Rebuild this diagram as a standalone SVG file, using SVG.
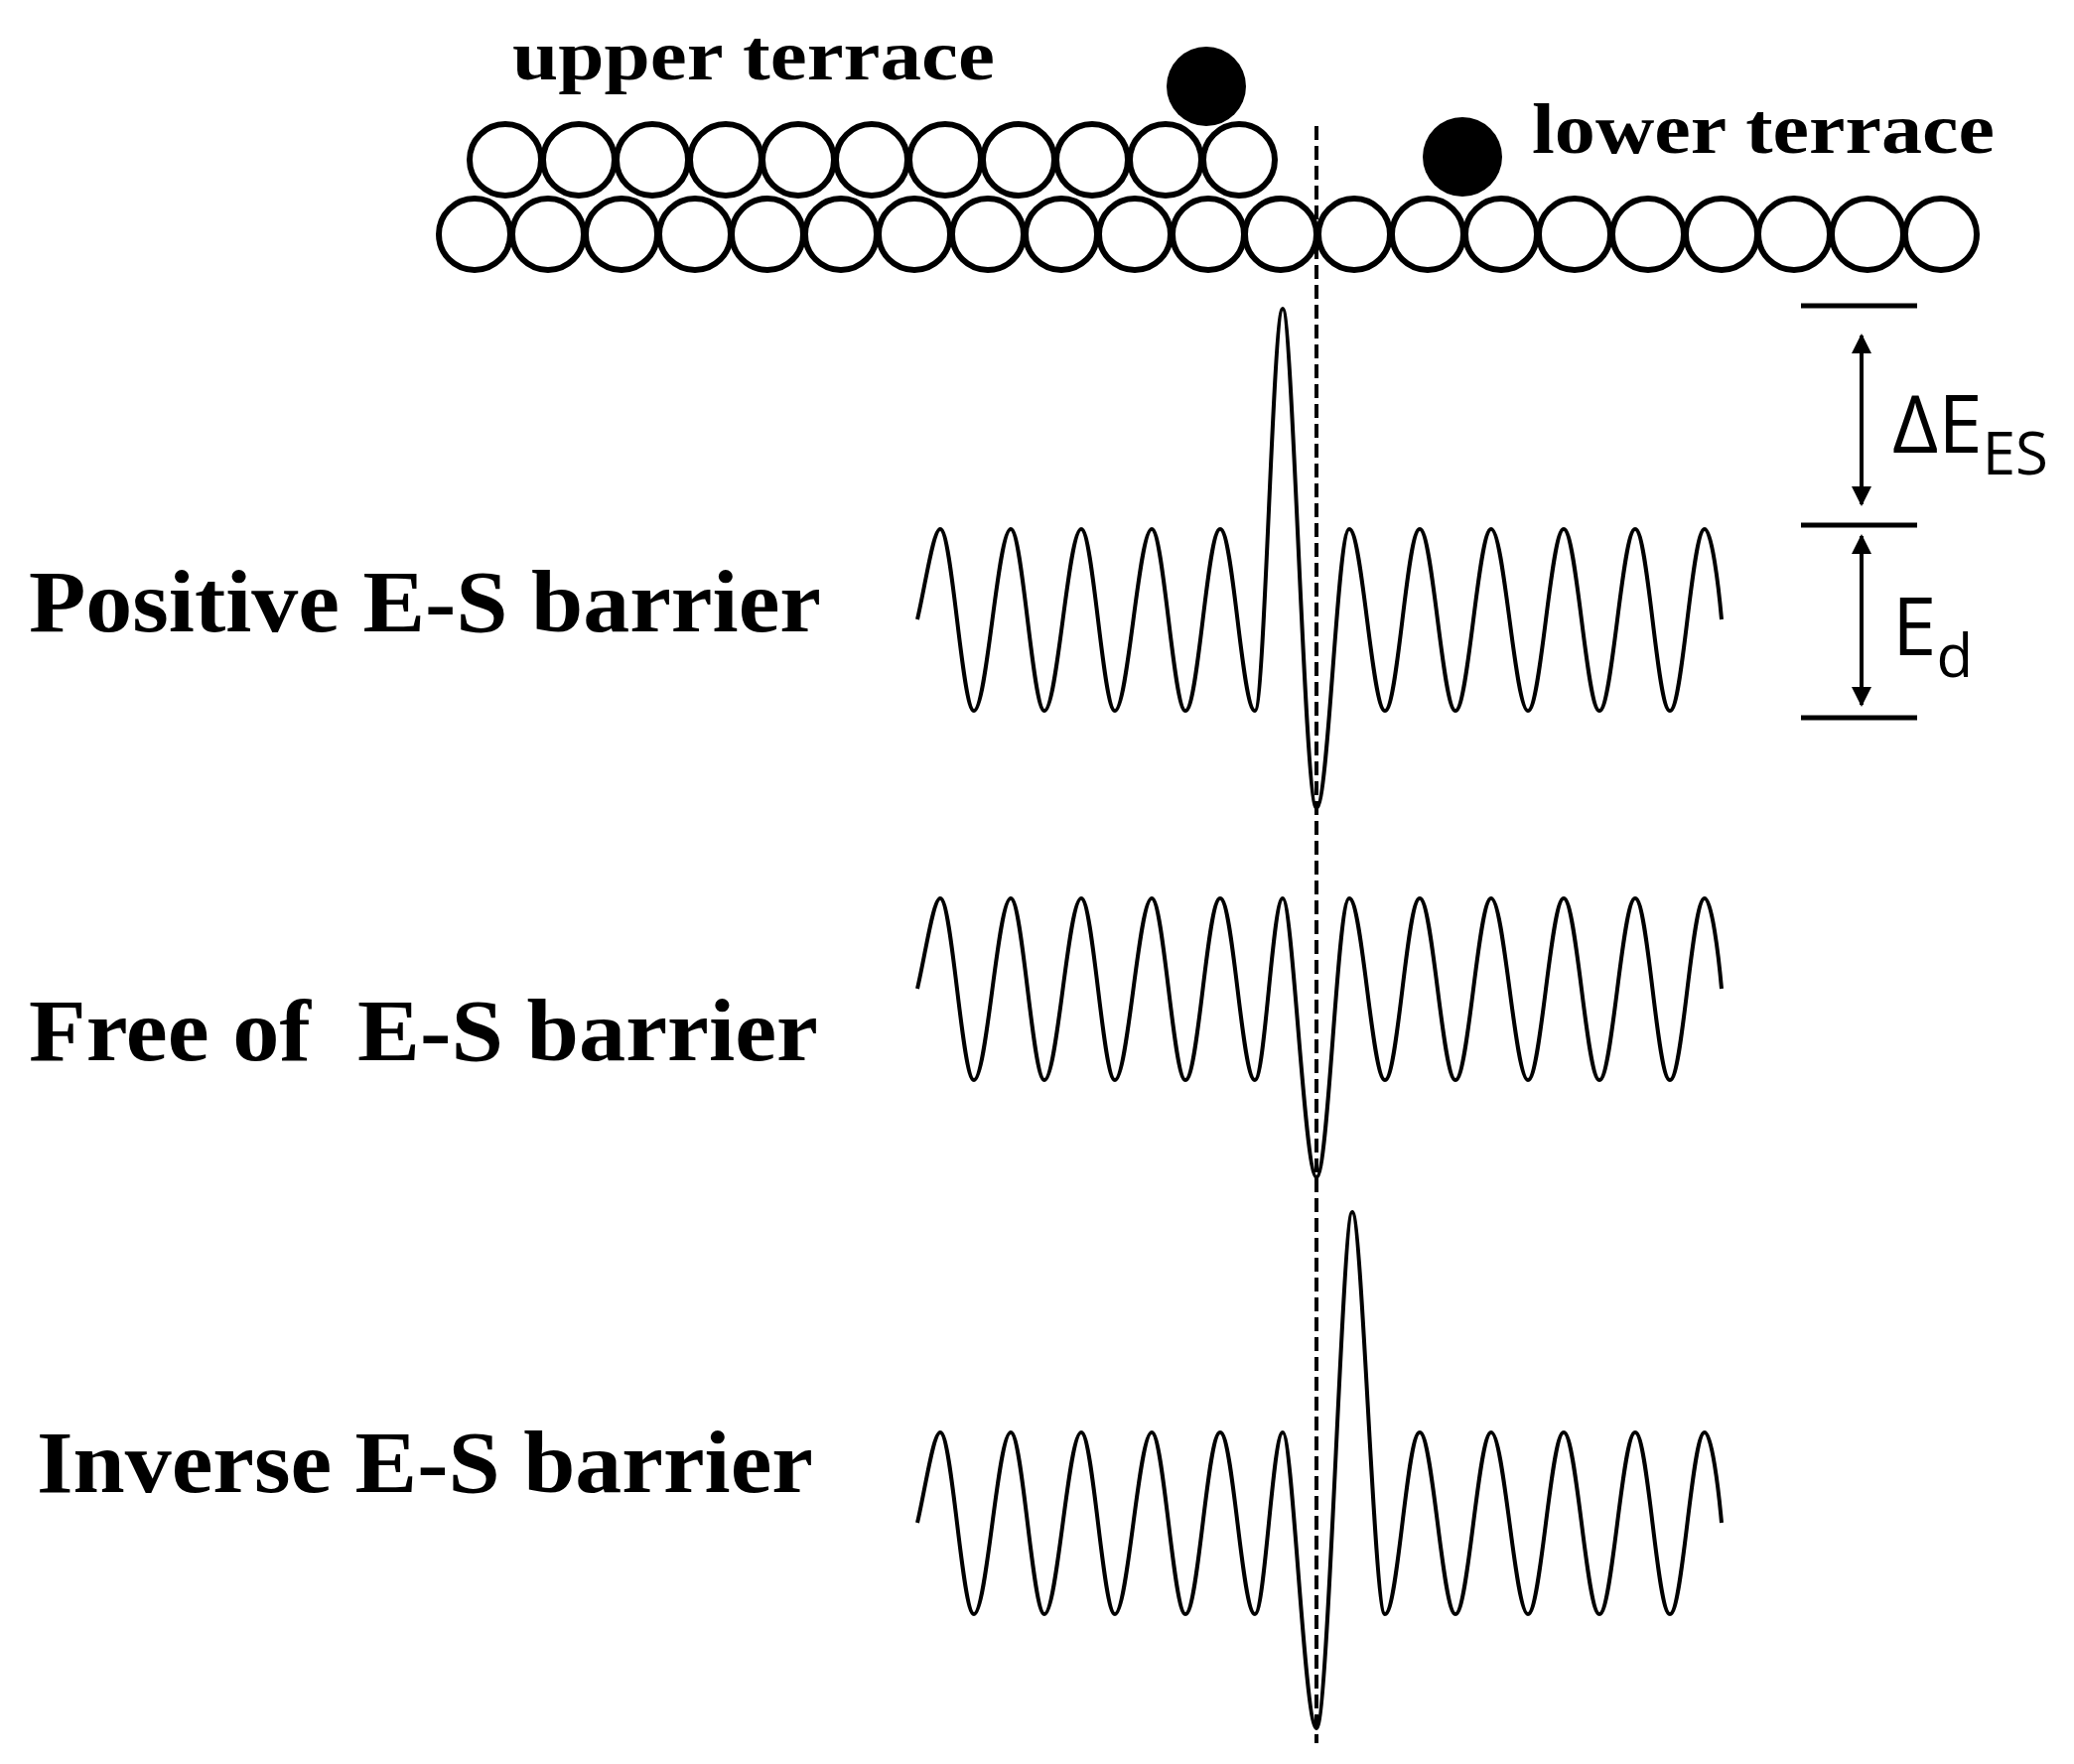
<svg xmlns="http://www.w3.org/2000/svg" width="2089" height="1777" viewBox="0 0 2089 1777">
<style>
.at{fill:#fff;stroke:#000;stroke-width:6}
.ad{fill:#000}
.lbl{font-family:"Liberation Serif",serif;font-weight:bold;fill:#000}
.sym{font-family:"Open Sans","Liberation Sans",sans-serif;fill:#000}
.wave{fill:none;stroke:#000;stroke-width:4}
.lev{stroke:#000;stroke-width:5}
.arr{stroke:#000;stroke-width:4;marker-start:url(#ah);marker-end:url(#ah)}
</style>
<defs>
<marker id="ah" viewBox="0 0 10 10" refX="9" refY="5" markerWidth="7" markerHeight="5" orient="auto-start-reverse" markerUnits="strokeWidth"><path d="M0,0 L10,5 L0,10 z" fill="#000"/></marker>
<circle id="c" r="36" class="at"/>
</defs>
<rect width="2089" height="1777" fill="#fff"/>
<g id="bottom-row">
<use href="#c" x="478" y="236"/><use href="#c" x="552" y="236"/><use href="#c" x="626" y="236"/><use href="#c" x="700" y="236"/><use href="#c" x="773" y="236"/><use href="#c" x="847" y="236"/><use href="#c" x="921" y="236"/><use href="#c" x="995" y="236"/><use href="#c" x="1069" y="236"/><use href="#c" x="1143" y="236"/><use href="#c" x="1217" y="236"/><use href="#c" x="1290" y="236"/><use href="#c" x="1364" y="236"/><use href="#c" x="1438" y="236"/><use href="#c" x="1512" y="236"/><use href="#c" x="1586" y="236"/><use href="#c" x="1660" y="236"/><use href="#c" x="1734" y="236"/><use href="#c" x="1807" y="236"/><use href="#c" x="1881" y="236"/><use href="#c" x="1955" y="236"/>
</g>
<g id="upper-row">
<use href="#c" x="509" y="161"/><use href="#c" x="583" y="161"/><use href="#c" x="657" y="161"/><use href="#c" x="731" y="161"/><use href="#c" x="804" y="161"/><use href="#c" x="878" y="161"/><use href="#c" x="952" y="161"/><use href="#c" x="1026" y="161"/><use href="#c" x="1100" y="161"/><use href="#c" x="1174" y="161"/><use href="#c" x="1248" y="161"/>
</g>
<g id="adatoms">
<circle cx="1215" cy="87" r="40" class="ad"/>
<circle cx="1473" cy="158" r="40" class="ad"/>
</g>
<g id="labels">
<text x="516" y="80" class="lbl" font-size="72" textLength="486" lengthAdjust="spacingAndGlyphs">upper terrace</text>
<text x="1543" y="154" class="lbl" font-size="72" textLength="466" lengthAdjust="spacingAndGlyphs">lower terrace</text>
<text x="29" y="636" class="lbl" font-size="88" textLength="798" lengthAdjust="spacingAndGlyphs">Positive E-S barrier</text>
<text x="29" y="1068" class="lbl" font-size="88" xml:space="preserve" textLength="795" lengthAdjust="spacingAndGlyphs">Free of  E-S barrier</text>
<text x="37" y="1503" class="lbl" font-size="88" textLength="782" lengthAdjust="spacingAndGlyphs">Inverse E-S barrier</text>
</g>
<g id="waves">
<path class="wave" d="M924,624 C932,590 940,533 947,533 C959,533 969,716 981,716 C994,716 1005,533 1018,533 C1030,533 1040,716 1052,716 C1065,716 1076,533 1089,533 C1101,533 1111,716 1123,716 C1136,716 1147,533 1160,533 C1172,533 1182,716 1194,716 C1207,716 1216,533 1229,533 C1242,533 1251,716 1264,716 C1274,716 1282,311 1292,311 C1302,311 1314,814 1326,814 C1338,814 1347,533 1359,533 C1372,533 1382,716 1395,716 C1408,716 1417,533 1430,533 C1443,533 1453,716 1466,716 C1479,716 1489,533 1502,533 C1515,533 1526,716 1539,716 C1552,716 1562,533 1575,533 C1588,533 1598,716 1611,716 C1624,716 1634,533 1647,533 C1660,533 1669,716 1682,716 C1695,716 1704,533 1717,533 C1724,533 1731,590 1734,624"/>
<path class="wave" transform="translate(0,372)" d="M924,624 C932,590 940,533 947,533 C959,533 969,716 981,716 C994,716 1005,533 1018,533 C1030,533 1040,716 1052,716 C1065,716 1076,533 1089,533 C1101,533 1111,716 1123,716 C1136,716 1147,533 1160,533 C1172,533 1182,716 1194,716 C1207,716 1216,533 1229,533 C1242,533 1251,716 1264,716 C1274,716 1282,533 1292,533 C1302,533 1314,814 1326,814 C1338,814 1347,533 1359,533 C1372,533 1382,716 1395,716 C1408,716 1417,533 1430,533 C1443,533 1453,716 1466,716 C1479,716 1489,533 1502,533 C1515,533 1526,716 1539,716 C1552,716 1562,533 1575,533 C1588,533 1598,716 1611,716 C1624,716 1634,533 1647,533 C1660,533 1669,716 1682,716 C1695,716 1704,533 1717,533 C1724,533 1731,590 1734,624"/>
<path class="wave" transform="translate(0,910)" d="M924,624 C932,590 940,533 947,533 C959,533 969,716 981,716 C994,716 1005,533 1018,533 C1030,533 1040,716 1052,716 C1065,716 1076,533 1089,533 C1101,533 1111,716 1123,716 C1136,716 1147,533 1160,533 C1172,533 1182,716 1194,716 C1207,716 1216,533 1229,533 C1242,533 1251,716 1264,716 C1274,716 1282,533 1292,533 C1302,533 1314,831 1326,831 C1338,831 1352,311 1362,311 C1372,311 1384,716 1395,716 C1408,716 1417,533 1430,533 C1443,533 1453,716 1466,716 C1479,716 1489,533 1502,533 C1515,533 1526,716 1539,716 C1552,716 1562,533 1575,533 C1588,533 1598,716 1611,716 C1624,716 1634,533 1647,533 C1660,533 1669,716 1682,716 C1695,716 1704,533 1717,533 C1724,533 1731,590 1734,624"/>
</g>
<g id="connectors">
<line x1="1326" y1="127" x2="1326" y2="1756" stroke="#000" stroke-width="4" stroke-dasharray="14,6"/>
<line class="lev" x1="1814" y1="308" x2="1931" y2="308"/>
<line class="lev" x1="1814" y1="529" x2="1931" y2="529"/>
<line class="lev" x1="1814" y1="723" x2="1931" y2="723"/>
<line class="arr" x1="1875" y1="338" x2="1875" y2="508"/>
<line class="arr" x1="1875" y1="540" x2="1875" y2="710"/>
</g>
<g id="energy-labels">
<text x="1906" y="456" class="sym" font-size="80">ΔE<tspan font-size="60" dy="22">ES</tspan></text>
<text x="1906" y="660" class="sym" font-size="80">E<tspan font-size="60" dy="22">d</tspan></text>
</g>
</svg>
